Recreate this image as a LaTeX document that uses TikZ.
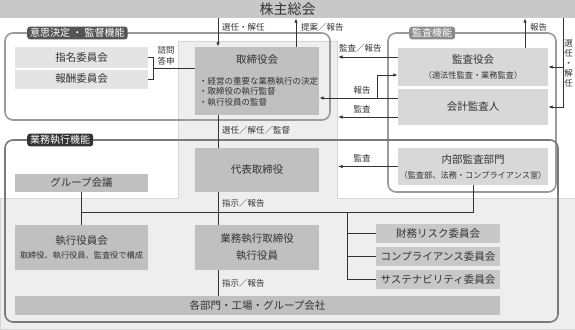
\documentclass[tikz,border=0pt]{standalone}
\usepackage{fontspec}
\setmainfont{Noto Sans CJK JP}
\usetikzlibrary{arrows.meta}
\definecolor{txt}{HTML}{333333}
\definecolor{linec}{HTML}{333333}
\definecolor{boxdk}{HTML}{C0C0C0}
\definecolor{boxmd}{HTML}{C8C8C8}
\definecolor{boxlt}{HTML}{E4E4E4}
\definecolor{boxau}{HTML}{D8D8D8}
\definecolor{bgl}{HTML}{EEEEEE}
\definecolor{bgline}{HTML}{D6D6D6}
\definecolor{frA}{HTML}{9A9A9A}
\definecolor{frC}{HTML}{7A7A7A}
\definecolor{tagA}{HTML}{555555}
\definecolor{tagB}{HTML}{8C8C8C}
\definecolor{tagC}{HTML}{333333}
\newcommand{\fsz}[1]{\fontsize{#1}{#1}\selectfont}
\tikzset{
  box/.style={inner sep=0pt, text=txt, font=\fsz{10.5}},
  dk/.style={box, fill=boxdk},
  md/.style={box, fill=boxmd},
  lt/.style={box, fill=boxlt},
  au/.style={box, fill=boxau},
  conn/.style={draw=linec, line width=0.8pt},
  arr/.style={conn, -{Latex[length=4.5pt,width=3.4pt]}},
  lbl/.style={inner sep=0pt, text=txt, font=\fsz{8.5}},
  sub/.style={inner sep=0pt, text=txt, font=\fsz{8.2}},
  frame/.style={line width=1.6pt, rounded corners=8pt},
  tag/.style={inner xsep=3pt, inner ysep=1.8pt, rounded corners=3pt, text=white, font=\fsz{10}},
}
\begin{document}
\begin{tikzpicture}[x=1pt,y=-1pt]
\useasboundingbox (0,0) rectangle (575,329);
\fill[white] (0,0) rectangle (575,329);
% background
\path[fill=bgl, draw=bgline, line width=0.6pt]
  (178,41) -- (337,41) -- (337,198) -- (575,198) -- (575,329) -- (0,329) -- (0,198) -- (178,198) -- cycle;
% frames
\draw[frame, draw=frA] (5,33) rectangle (330,120);
\draw[frame, draw=frA] (388,33) rectangle (556,192);
\draw[frame, draw=frC] (5,140) rectangle (558,322);
\node[tag, fill=tagA, anchor=west] (tagD) at (27,33) {意思決定 ・ 監督機能};
\node[tag, fill=tagB, anchor=west] (tagK) at (409,33) {監査機能};
\node[tag, fill=tagC, anchor=west] (tagG) at (27,140) {業務執行機能};

% boxes
\node[md, minimum width=575pt, minimum height=18pt, font=\fsz{14}] (share) at (287.5,9) {株主総会};
\node[lt, minimum width=133pt, minimum height=20pt] (shimei) at (81.5,57.5) {指名委員会};
\node[lt, minimum width=133pt, minimum height=19pt] (hoshu) at (81.5,79) {報酬委員会};
\node[dk, minimum width=124pt, minimum height=68pt] (tori) at (257,81) {};
\node[box] (toriT) at (257,60) {取締役会};
\node[lbl, anchor=west] (toriB1) at (199,81) {・経営の重要な業務執行の決定};
\node[lbl, anchor=west] (toriB2) at (199,91.5) {・取締役の執行監督};
\node[lbl, anchor=west] (toriB3) at (199,102) {・執行役員の監督};
\node[au, minimum width=150pt, minimum height=38pt] (kansayaku) at (473,67) {};
\node[box] (kansayakuT) at (473,60) {監査役会};
\node[sub] (kansayakuS) at (473,75.5) {（適法性監査・業務監査）};
\node[au, minimum width=150pt, minimum height=36pt] (kaikei) at (473,107) {会計監査人};
\node[au, minimum width=150pt, minimum height=37pt] (naibu) at (473,166.5) {};
\node[box] (naibuT) at (473,159.5) {内部監査部門};
\node[sub] (naibuS) at (473,175) {（監査部、法務・コンプライアンス室）};
\node[dk, minimum width=124pt, minimum height=44pt] (daihyo) at (257,170) {代表取締役};
\node[dk, minimum width=133pt, minimum height=18pt] (group) at (81.5,183) {グループ会議};
\node[dk, minimum width=133pt, minimum height=45pt] (shikko) at (81.5,247.5) {};
\node[box] (shikkoT) at (81.5,241) {執行役員会};
\node[sub] (shikkoS) at (81.5,255.5) {取締役、執行役員、監査役で構成};
\node[dk, minimum width=124pt, minimum height=45pt] (gyomu) at (257,247.5) {};
\node[box] (gyomuT) at (257,239) {業務執行取締役};
\node[box] (gyomuT2) at (257,256) {執行役員};
\node[md, minimum width=124pt, minimum height=19pt] (iin1) at (438,233.5) {財務リスク委員会};
\node[md, minimum width=124pt, minimum height=19pt] (iin2) at (438,256.5) {コンプライアンス委員会};
\node[md, minimum width=124pt, minimum height=19pt] (iin3) at (438,279.5) {サステナビリティ委員会};
\node[dk, minimum width=485pt, minimum height=19pt] (kaku) at (257.5,305.5) {各部門・工場・グループ会社};

% helper coordinates
\coordinate (xL) at (218,0);
\coordinate (xP) at (296,0);
\coordinate (xR) at (525,0);
\coordinate (xS) at (563,0);
\coordinate (xC) at (347,0);
\coordinate (hy) at (0,212);
\coordinate (e1) at (338,57);
\coordinate (e2) at (338,117);
\coordinate (e3) at (338,166.5);
\coordinate (r1) at (377,98);
\coordinate (r2) at (377,75);
\coordinate (b1) at (153,68);

% connectors top
\draw[arr] (share.south -| xL) -- (tori.north -| xL);
\draw[arr] (tori.north -| xP) -- (share.south -| xP);
\draw[arr] (kansayaku.north -| xR) -- (share.south -| xR);
\draw[arr] (share.south -| xS) -- (xS |- kaikei.east) -- (kaikei.east);
\draw[arr] (xS |- kansayaku.east) -- (kansayaku.east);
\draw[arr] (kansayaku.west |- e1) -- (e1);
\draw[arr] (kaikei.west |- r1) -- (tori.east |- r1);
\draw[arr] (r1) -- (r2) -- (kansayaku.west |- r2);
\draw[arr] (kaikei.west |- e2) -- (e2);
\draw[arr] (naibu.west) -- (e3);
% bracket
\draw[conn] (shimei.east) -- (shimei.east -| b1) -- (hoshu.east -| b1) -- (hoshu.east);
\draw[conn] (b1) -- (tori.west |- b1);
% vertical chain
\draw[conn] (tori.south -| xL) -- (daihyo.north -| xL);
\draw[conn] (daihyo.south -| xL) -- (gyomu.north -| xL);
\draw[conn] (gyomu.south -| xL) -- (kaku.north -| xL);
% lower
\draw[conn] (group.south) -- (shikko.north);
\draw[conn] (group.south |- hy) -- (naibu.south |- hy) -- (naibu.south);
\draw[conn] (xC |- hy) -- (xC |- iin3.west) -- (iin3.west);
\draw[conn] (xC |- iin1.west) -- (iin1.west);
\draw[conn] (xC |- iin2.west) -- (iin2.west);

% labels
\node[lbl, anchor=west] (l1) at (222,27) {選任・解任};
\node[lbl, anchor=west] (l2) at (301,27) {提案／報告};
\node[lbl, anchor=west] (l3) at (530,27) {報告};
\node[lbl, align=center, font=\fontsize{8.5}{10}\selectfont] (l4) at (568.5,63) {選\\任\\・\\解\\任};
\node[lbl, anchor=west] (l5) at (339,48) {監査／報告};
\node[lbl] (l6) at (362,90) {報告};
\node[lbl] (l7) at (362,109) {監査};
\node[lbl] (l8) at (362,158) {監査};
\node[lbl] (l9) at (166,50) {諮問};
\node[lbl] (l10) at (166,61) {答申};
\node[lbl, anchor=west] (l11) at (222,130) {選任／解任／監督};
\node[lbl, anchor=west] (l12) at (222,203) {指示／報告};
\node[lbl, anchor=west] (l13) at (222,283) {指示／報告};
\end{tikzpicture}
\end{document}
